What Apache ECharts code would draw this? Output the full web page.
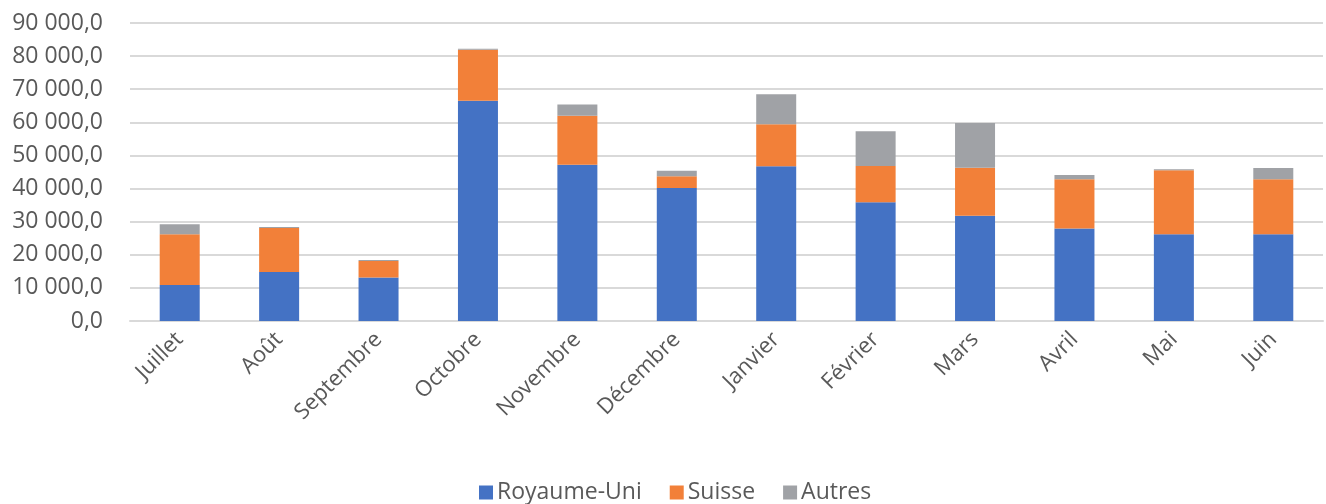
<!DOCTYPE html>
<html lang="fr">
<head>
<meta charset="utf-8">
<title>Répartition mensuelle par pays</title>
<script src="https://cdn.jsdelivr.net/npm/echarts@6/dist/echarts.min.js"></script>
<style>
  html, body { margin: 0; padding: 0; background: #ffffff; }
  #chart { width: 1326px; height: 504px; }
</style>
</head>
<body>
<div id="chart"></div>
<script>
// Mois (juillet à juin)
const months = ['Juillet', 'Août', 'Septembre', 'Octobre', 'Novembre', 'Décembre',
                'Janvier', 'Février', 'Mars', 'Avril', 'Mai', 'Juin'];

// Valeurs par pays
const royaumeUni = [10900, 14800, 13100, 66500, 47200, 40200, 46700, 35900, 31800, 27900, 26200, 26200];
const suisse     = [15300, 13300,  5000, 15400, 14800,  3500, 12700, 10900, 14500, 14900, 19300, 16600];
const autres     = [ 3000,   300,   300,   300,  3400,  1700,  9100, 10500, 13500,  1300,   300,  3400];

const seriesNames = ['Royaume-Uni', 'Suisse', 'Autres'];
const seriesColors = ['#4472C4', '#F28039', '#A0A2A6'];

// Format français : espace pour les milliers, virgule décimale
function fmt(v) {
  const parts = Math.round(v).toString().replace(/\B(?=(\d{3})+(?!\d))/g, ' ');
  return parts + ',0';
}

const font = '"Open Sans", "Noto Sans", sans-serif';
const textColor = '#595959';

const chart = echarts.init(document.getElementById('chart'), null, { renderer: 'canvas' });

chart.setOption({
  animation: false,
  backgroundColor: '#ffffff',
  grid: { left: 130, top: 23, width: 1193, height: 298, containLabel: false },
  legend: {
    data: seriesNames,
    left: 474,
    top: 476,
    icon: 'rect',
    itemWidth: 14,
    itemHeight: 14,
    itemGap: 28,
    textStyle: { fontFamily: font, fontSize: 23, color: textColor, padding: [0, 0, 0, -1] }
  },
  xAxis: {
    type: 'category',
    data: months,
    axisLine: { show: true, lineStyle: { color: '#d9d9d9', width: 2 } },
    axisTick: { show: false },
    axisLabel: {
      interval: 0,
      rotate: 45,
      margin: 15,
      fontFamily: font,
      fontSize: 22,
      color: textColor
    }
  },
  yAxis: {
    type: 'value',
    min: 0,
    max: 90000,
    interval: 10000,
    axisLine: { show: false },
    axisTick: { show: false },
    splitLine: { lineStyle: { color: '#d9d9d9', width: 2 } },
    axisLabel: {
      margin: 27,
      fontFamily: font,
      fontSize: 23,
      color: textColor,
      formatter: fmt
    }
  },
  series: [
    { name: seriesNames[0], type: 'bar', stack: 'total', data: royaumeUni, barWidth: 40,
      itemStyle: { color: seriesColors[0] } },
    { name: seriesNames[1], type: 'bar', stack: 'total', data: suisse, barWidth: 40,
      itemStyle: { color: seriesColors[1] } },
    { name: seriesNames[2], type: 'bar', stack: 'total', data: autres, barWidth: 40,
      itemStyle: { color: seriesColors[2] } }
  ]
});
</script>
</body>
</html>
